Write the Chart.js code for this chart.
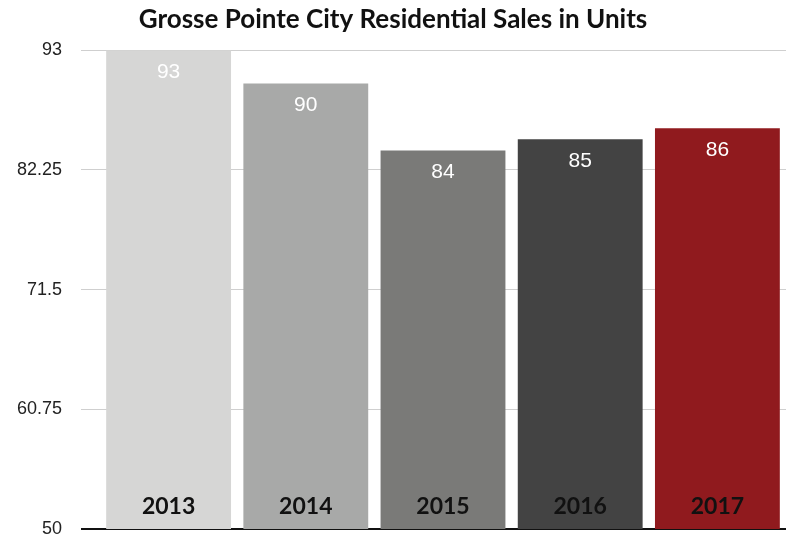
<!DOCTYPE html>
<html>
<head>
<meta charset="utf-8">
<script src="https://cdn.jsdelivr.net/npm/chart.js@4"></script>
<style>
  html, body { margin: 0; padding: 0; background: #ffffff; }
  #wrap { width: 791px; height: 540px; }
</style>
</head>
<body>
<div id="wrap"><canvas id="salesChart"></canvas></div>
<script>
const years = ['2013', '2014', '2015', '2016', '2017'];
const units = [93, 90, 84, 85, 86];
const barColors = ['#d6d6d5', '#a8a9a8', '#7a7a78', '#434343', '#901a1e'];
const yTicks = [50, 60.75, 71.5, 82.25, 93];

// white value at top of each bar, black year at its foot
const barLabels = {
    id: 'barLabels',
    afterDatasetsDraw(chart) {
        const ctx = chart.ctx;
        const meta = chart.getDatasetMeta(0);
        const bottom = chart.scales.y.getPixelForValue(50);
        ctx.save();
        ctx.textAlign = 'center';
        ctx.textBaseline = 'middle';
        meta.data.forEach((bar, i) => {
            ctx.fillStyle = '#ffffff';
            ctx.font = '21px "Liberation Sans", Arial, sans-serif';
            ctx.fillText(String(units[i]), bar.x, bar.y + 22);

            ctx.fillStyle = '#111111';
            ctx.font = 'bold 23px Lato, sans-serif';
            ctx.fillText(years[i], bar.x, bottom - 22);
        });
        ctx.restore();
    }
};

new Chart(document.getElementById('salesChart'), {
    type: 'bar',
    data: {
        labels: years,
        datasets: [{
            data: units,
            backgroundColor: barColors,
            borderWidth: 0,
            categoryPercentage: 0.91,
            barPercentage: 1.0,
        }],
    },
    options: {
        responsive: true,
        maintainAspectRatio: false,
        animation: false,
        layout: { padding: { left: 0, right: 5, top: 0, bottom: 10 } },
        plugins: {
            legend: { display: false },
            tooltip: { enabled: false },
            title: {
                display: true,
                text: 'Grosse Pointe City Residential Sales in Units',
                color: '#111111',
                font: { family: 'Lato', size: 26, weight: 'bold' },
                padding: { top: 4, bottom: 15 },
            },
        },
        scales: {
            x: {
                afterFit: (scale) => { scale.height = 1; },
                ticks: { display: false },
                grid: { display: false, drawTicks: false },
                border: { display: false },
            },
            y: {
                min: 50,
                max: 93,
                afterBuildTicks: (scale) => {
                    scale.ticks = yTicks.map(v => ({ value: v }));
                },
                afterFit: (scale) => {
                    scale.width = 100;
                    scale.paddingTop = 0;
                    scale.paddingBottom = 0;
                },
                ticks: {
                    color: '#222222',
                    padding: 19,
                    font: { family: '"Liberation Sans", Arial, sans-serif', size: 18 },
                    callback: (v) => String(v),
                },
                grid: {
                    color: (c) => (c.tick && c.tick.value === 50 ? '#111111' : '#cfcfcf'),
                    lineWidth: (c) => (c.tick && c.tick.value === 50 ? 2 : 1),
                    drawTicks: true,
                    tickLength: 19,
                },
                border: { display: false },
            },
        },
    },
    plugins: [barLabels],
});
</script>
</body>
</html>
